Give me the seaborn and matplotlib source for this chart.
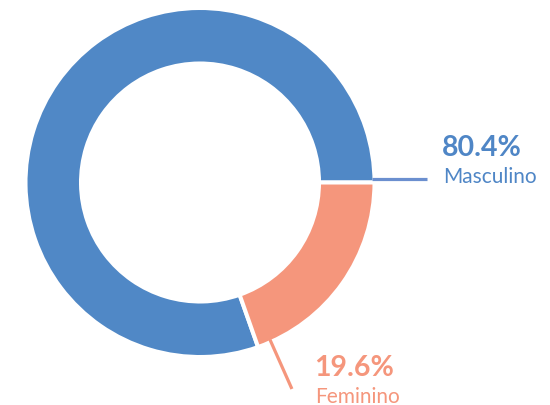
import seaborn as sns
import matplotlib.pyplot as plt
import numpy as np

# data
labels = ["Masculino", "Feminino"]
values = [80.4, 19.6]
pct_labels = ["80.4%", "19.6%"]
colors = ["#5088c6", "#f5967c"]
text_colors = ["#4f86c6", "#f5967c"]
line_colors = ["#6b8fcf", "#f5967c"]

sns.set_theme(style="white")
plt.rcParams["font.family"] = ["Lato", "DejaVu Sans"]

fig = plt.figure(figsize=(5.5, 4.06), dpi=100)
ax = fig.add_axes([0, 0, 1, 1])
ax.set_aspect("equal")
ax.axis("off")

cx, cy = 200, 222.5
R = 174.5
wedges, _ = ax.pie(
    values, colors=colors, center=(cx, cy), radius=R,
    startangle=0, counterclock=True,
    wedgeprops=dict(width=55.5, edgecolor="white", linewidth=2.9),
)
ax.set_xlim(0, 550)
ax.set_ylim(0, 406)

# Masculino leader: horizontal line just above the gap
ax.plot([cx + 172, cx + 227], [cy + 4, cy + 4], color=line_colors[0], lw=2.3,
        solid_capstyle="butt")
# Feminino leader: radial line inside the salmon wedge
ang = np.deg2rad(-66)
r0, r1 = 172, 226
ax.plot([cx + r0 * np.cos(ang), cx + r1 * np.cos(ang)],
        [cy + r0 * np.sin(ang), cy + r1 * np.sin(ang)],
        color=line_colors[1], lw=2.3, solid_capstyle="butt")

ax.text(442, 250, pct_labels[0], color=text_colors[0], fontsize=20.5,
        fontweight="bold", ha="left", va="baseline")
ax.text(443, 223, labels[0], color=text_colors[0], fontsize=15,
        ha="left", va="baseline")
ax.text(314, 30, pct_labels[1], color=text_colors[1], fontsize=20.5,
        fontweight="bold", ha="left", va="baseline")
ax.text(315, 3, labels[1], color=text_colors[1], fontsize=15,
        ha="left", va="baseline")

fig.savefig("out.png", dpi=100)
